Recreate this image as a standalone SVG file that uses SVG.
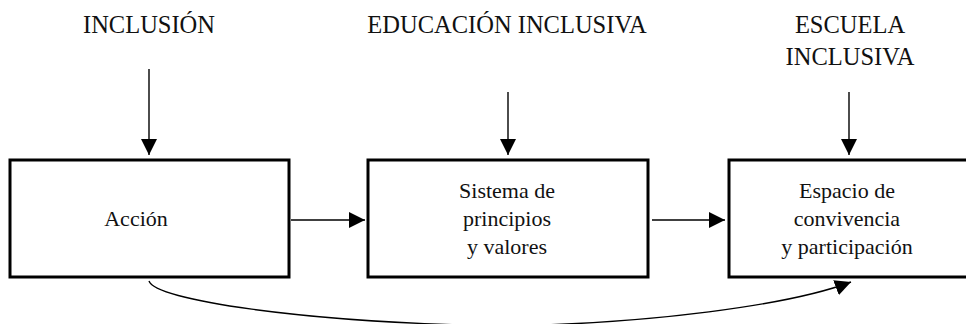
<svg xmlns="http://www.w3.org/2000/svg" width="966" height="324" viewBox="0 0 966 324">
<style>
.box{fill:#fff;stroke:#000;stroke-width:3}
.hd{font-family:'Liberation Serif','Times New Roman',serif;font-size:24.5px;fill:#111;text-anchor:middle}
.tx{font-family:'Liberation Serif','Times New Roman',serif;font-size:22px;fill:#111;text-anchor:middle}
.ln{fill:none;stroke:#000;stroke-width:1.4}
</style>
<defs>
<marker id="ah" markerUnits="userSpaceOnUse" markerWidth="16" markerHeight="16" refX="16" refY="8" orient="auto" viewBox="0 0 16 16">
<path d="M0,0 L16,8 L0,16 z" fill="#000"/>
</marker>
</defs>
<rect width="966" height="324" fill="#fff"/>
<g id="label-inclusion"><text class="hd" x="149" y="33">INCLUSIÓN</text></g>
<g id="label-educacion"><text class="hd" x="507" y="33">EDUCACIÓN INCLUSIVA</text></g>
<g id="label-escuela"><text class="hd" x="850" y="33">ESCUELA</text><text class="hd" x="850" y="65">INCLUSIVA</text></g>
<g id="node-accion"><rect class="box" x="10" y="160" width="279" height="117"/><text class="tx" x="136" y="226">Acción</text></g>
<g id="node-sistema"><rect class="box" x="368" y="160" width="280" height="117"/><text class="tx" x="507" y="198">Sistema de</text><text class="tx" x="507" y="226">principios</text><text class="tx" x="507" y="254">y valores</text></g>
<g id="node-espacio"><rect class="box" x="729" y="160" width="250" height="117"/><text class="tx" x="847" y="198">Espacio de</text><text class="tx" x="847" y="226">convivencia</text><text class="tx" x="847" y="254">y participación</text></g>
<g id="connectors">
<line class="ln" x1="149" y1="69" x2="149" y2="155" marker-end="url(#ah)"/>
<line class="ln" x1="508" y1="92" x2="508" y2="155" marker-end="url(#ah)"/>
<line class="ln" x1="849" y1="92" x2="849" y2="155" marker-end="url(#ah)"/>
<line class="ln" x1="291" y1="220" x2="365" y2="220" marker-end="url(#ah)"/>
<line class="ln" x1="652" y1="220" x2="725" y2="220" marker-end="url(#ah)"/>
<path class="ln" d="M149,281 C155,300 300,322 500,326 C650,324 790,305 851,282" marker-end="url(#ah)"/>
</g>
</svg>
